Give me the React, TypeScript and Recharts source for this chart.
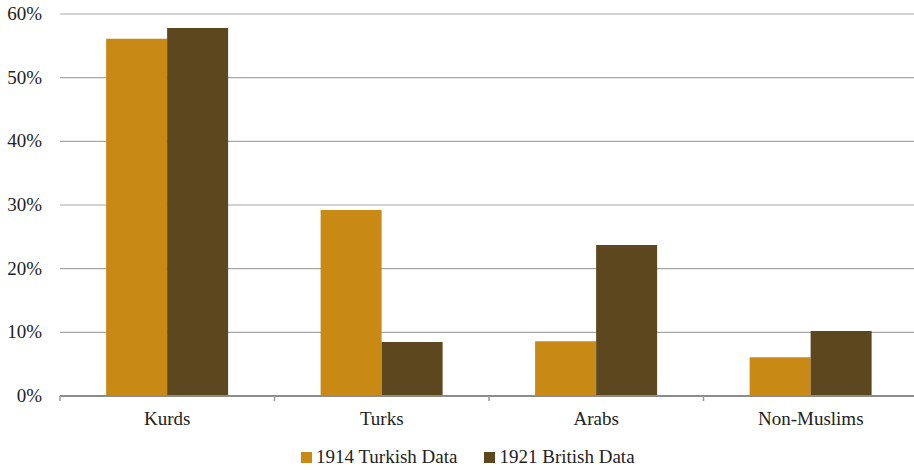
import React from "react";
import { BarChart, Bar, XAxis, YAxis, CartesianGrid, Legend } from "recharts";

const categories = ["Kurds", "Turks", "Arabs", "Non-Muslims"];
const turkish1914 = [56.1, 29.2, 8.6, 6.1];
const british1921 = [57.8, 8.5, 23.7, 10.2];
const yTicks = [0, 10, 20, 30, 40, 50, 60];
const seriesNames = ["1914 Turkish Data", "1921 British Data"];
const seriesColors = ["#c98a15", "#5c471e"];

const data = categories.map((c, i) => ({
  name: c,
  t1914: turkish1914[i],
  b1921: british1921[i],
}));

const FONT = "Liberation Serif";

const XTick = (props: any) => {
  const { x, y, payload, index } = props;
  const off = payload && payload.offset ? payload.offset : 107.25;
  const ay = y - 8;
  return (
    <g>
      <line x1={x - off} x2={x - off} y1={ay} y2={ay + 5} stroke="#999" strokeWidth={1.5} />
      {index === categories.length - 1 ? (
        <line x1={x + off} x2={x + off} y1={ay} y2={ay + 5} stroke="#999" strokeWidth={1.5} />
      ) : null}
      <text x={x} y={y + 21} textAnchor="middle" fill="#222" fontSize={19} fontFamily={FONT}>
        {payload.value}
      </text>
    </g>
  );
};

const YTick = (props: any) => {
  const { x, y, payload } = props;
  return (
    <text x={x} y={y} dy={6} textAnchor="end" fill="#222" fontSize={19} fontFamily={FONT}>
      {`${payload.value}%`}
    </text>
  );
};

const LegendContent = (props: any) => {
  const items = (props.payload || []) as any[];
  return (
    <div style={{ display: "flex", paddingLeft: 301, fontFamily: FONT, fontSize: 19, color: "#222", lineHeight: "20px" }}>
      {items.map((it: any, i: number) => (
        <div key={i} style={{ display: "flex", alignItems: "center", marginRight: 27 }}>
          <span style={{ display: "inline-block", width: 11, height: 11, background: it.color, marginRight: 4 }} />
          <span style={{ fontFamily: FONT }}>{it.value}</span>
        </div>
      ))}
    </div>
  );
};

export default function App() {
  return (
    <div style={{ position: "absolute", left: 0, top: 0 }}>
      <BarChart
        width={920}
        height={470}
        data={data}
        margin={{ top: 14, right: 2, left: 0, bottom: 0 }}
        barCategoryGap="21.5%"
        barGap={0}
      >
        <CartesianGrid vertical={false} stroke="#a6a6a6" strokeWidth={1.2} />
        <XAxis
          dataKey="name"
          height={54}
          tick={<XTick />}
          tickLine={false}
          axisLine={{ stroke: "#8c8c8c", strokeWidth: 2 }}
        />
        <YAxis
          width={60}
          domain={[0, 60]}
          ticks={yTicks}
          axisLine={false}
          tickLine={false}
          tickSize={0}
          tickMargin={18}
          tick={<YTick />}
        />
        <Legend verticalAlign="bottom" content={<LegendContent />} wrapperStyle={{ left: 0, width: 920, bottom: 3 }} />
        <Bar dataKey="t1914" name={seriesNames[0]} fill={seriesColors[0]} isAnimationActive={false} />
        <Bar dataKey="b1921" name={seriesNames[1]} fill={seriesColors[1]} isAnimationActive={false} />
      </BarChart>
    </div>
  );
}
